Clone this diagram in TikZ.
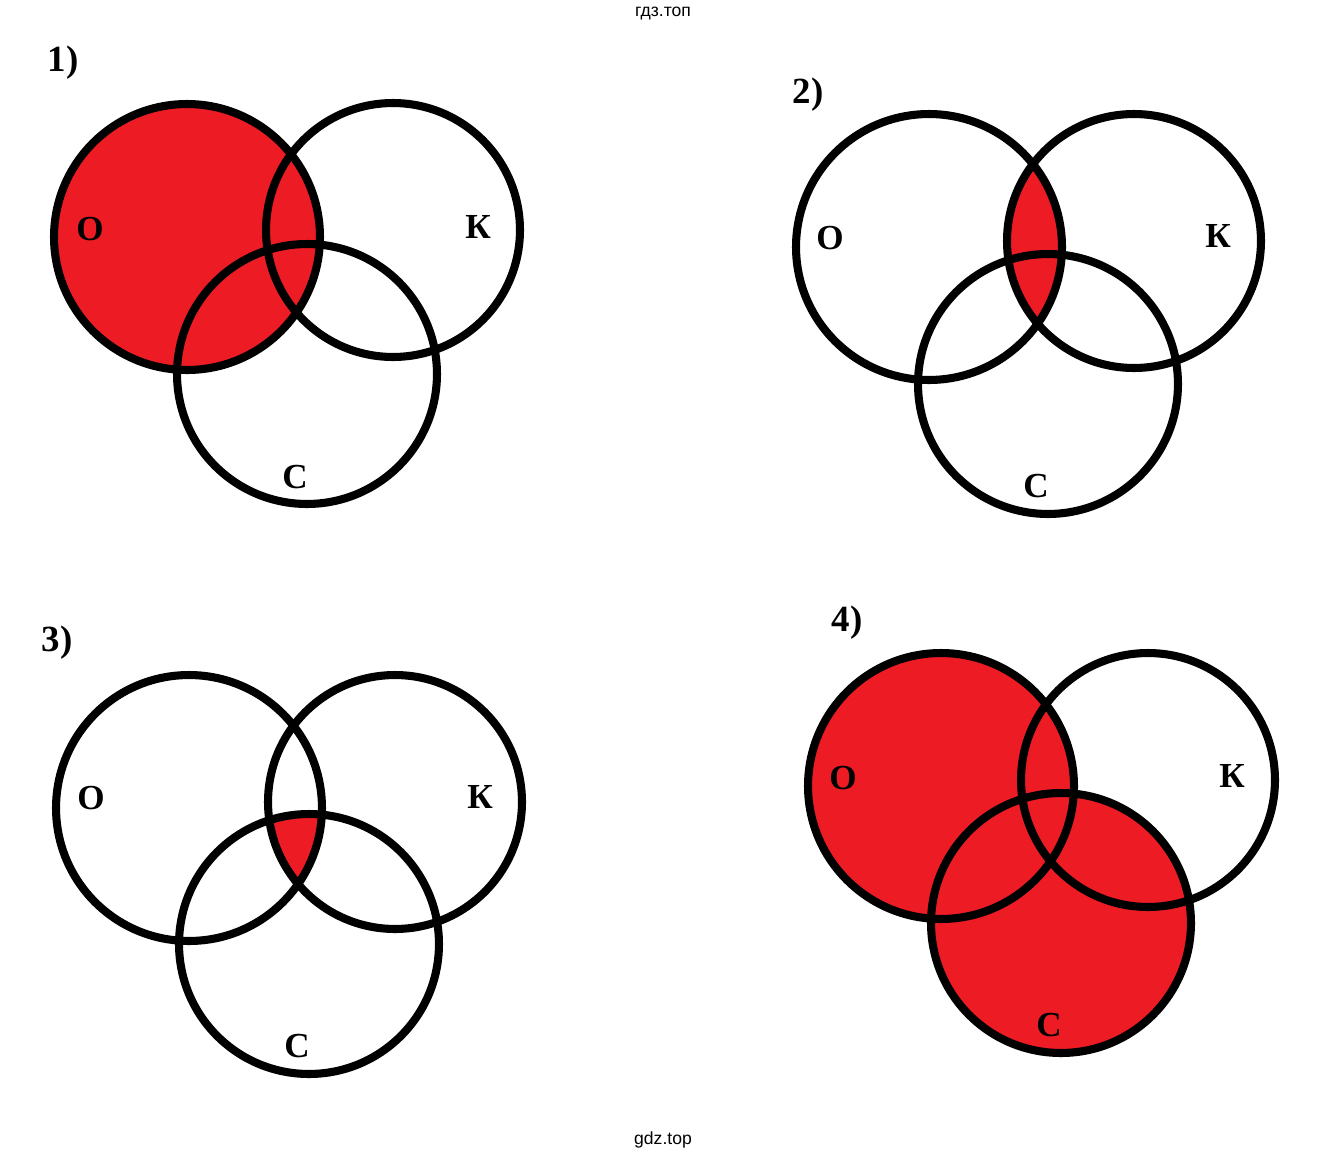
\documentclass[tikz,border=0pt]{standalone}
\usepackage{fontspec}
\setmainfont{Liberation Serif}
\newfontfamily\wmfont{Liberation Sans}
\usetikzlibrary{positioning}
\definecolor{vennred}{RGB}{237,28,36}
\newcommand{\radO}{2.66cm}
\newcommand{\radK}{2.54cm}
\newcommand{\radC}{2.60cm}
\tikzset{
  ring/.style={draw=black, line width=4.6pt},
  redset/.style={fill=vennred},
  setlabel/.style={font=\bfseries\fontsize{20}{20}\selectfont, inner sep=0pt},
  numlabel/.style={font=\bfseries\fontsize{21}{21}\selectfont, inner sep=0pt},
  wmark/.style={font=\wmfont\fontsize{10}{10}\selectfont, inner sep=0pt}
}

\begin{document}
\begin{tikzpicture}[x=0.02cm, y=-0.02cm]
\useasboundingbox (0,0) rectangle (1330,1160);
\node[wmark] (top) at (663,14) {гдз.топ};
\node[wmark] (bot) at (663,1140) {gdz.top};

% 1) O
\coordinate (o1) at (187,237);
\coordinate (k1) at (393,230);
\coordinate (c1) at (307,374);
\fill[redset] (o1) circle[radius=\radO];
\draw[ring] (o1) circle[radius=\radO];
\draw[ring] (k1) circle[radius=\radK];
\draw[ring] (c1) circle[radius=\radC];
\node[numlabel] (n1) at (63,63) {1)};
\node[setlabel] (o1lab) at (90,229) {О};
\node[setlabel] (k1lab) at (478,227) {К};
\node[setlabel] (c1lab) at (295,477) {С};

% 2) O and K
\coordinate (o2) at (929,247);
\coordinate (k2) at (1134,241);
\coordinate (c2) at (1048,384);
\begin{scope}
  \clip (o2) circle[radius=\radO];
  \fill[redset] (k2) circle[radius=\radK];
\end{scope}
\draw[ring] (o2) circle[radius=\radO];
\draw[ring] (k2) circle[radius=\radK];
\draw[ring] (c2) circle[radius=\radC];
\node[numlabel] (n2) at (808,95) {2)};
\node[setlabel] (o2lab) at (830,238) {О};
\node[setlabel] (k2lab) at (1218,236) {К};
\node[setlabel] (c2lab) at (1036,486) {С};

% 3) O, K and C
\coordinate (o3) at (189,808);
\coordinate (k3) at (395,802);
\coordinate (c3) at (309,944);
\begin{scope}
  \clip (o3) circle[radius=\radO];
  \clip (k3) circle[radius=\radK];
  \fill[redset] (c3) circle[radius=\radC];
\end{scope}
\draw[ring] (o3) circle[radius=\radO];
\draw[ring] (k3) circle[radius=\radK];
\draw[ring] (c3) circle[radius=\radC];
\node[numlabel] (n3) at (57,643) {3)};
\node[setlabel] (o3lab) at (91,798) {О};
\node[setlabel] (k3lab) at (480,797) {К};
\node[setlabel] (c3lab) at (297,1046) {С};

% 4) O or C
\coordinate (o4) at (941,786);
\coordinate (k4) at (1148,780);
\coordinate (c4) at (1061,923);
\fill[redset] (o4) circle[radius=\radO];
\fill[redset] (c4) circle[radius=\radC];
\draw[ring] (o4) circle[radius=\radO];
\draw[ring] (k4) circle[radius=\radK];
\draw[ring] (c4) circle[radius=\radC];
\node[numlabel] (n4) at (847,623) {4)};
\node[setlabel] (o4lab) at (843,778) {О};
\node[setlabel] (k4lab) at (1232,776) {К};
\node[setlabel] (c4lab) at (1049,1025) {С};
\end{tikzpicture}
\end{document}
